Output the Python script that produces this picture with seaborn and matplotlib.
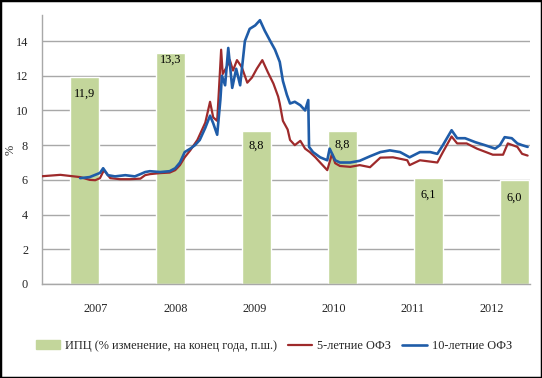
import matplotlib
matplotlib.use("Agg")
import matplotlib.pyplot as plt
import matplotlib.patches as mpatches
from matplotlib.lines import Line2D
import seaborn as sns
import pandas as pd

# ---------------- data ----------------
years = ["2007", "2008", "2009", "2010", "2011", "2012"]
cpi = [11.9, 13.3, 8.8, 8.8, 6.1, 6.0]

ofz5_t = [2006.32, 2006.55, 2006.80, 2006.92, 2006.99, 2007.05, 2007.10, 2007.18, 2007.30,
          2007.43, 2007.56, 2007.62, 2007.68, 2007.81, 2007.93, 2008.00, 2008.06, 2008.12,
          2008.19, 2008.28, 2008.38, 2008.44, 2008.48, 2008.53, 2008.55, 2008.58, 2008.60,
          2008.65, 2008.69, 2008.73, 2008.78, 2008.84, 2008.91, 2008.97, 2009.03, 2009.10,
          2009.13, 2009.17, 2009.24, 2009.30, 2009.32, 2009.36, 2009.42, 2009.45, 2009.51,
          2009.58, 2009.64, 2009.70, 2009.77, 2009.83, 2009.92, 2009.98, 2010.02, 2010.08,
          2010.21, 2010.33, 2010.46, 2010.59, 2010.75, 2010.93, 2010.96, 2011.09, 2011.31,
          2011.38, 2011.49, 2011.56, 2011.68, 2011.81, 2012.01, 2012.14, 2012.20, 2012.32,
          2012.38, 2012.45]
ofz5_v = [6.21, 6.29, 6.16, 6.00, 5.98, 6.10, 6.56, 6.10, 6.04,
          6.04, 6.07, 6.27, 6.33, 6.39, 6.42, 6.56, 6.85, 7.30,
          7.70, 8.30, 9.30, 10.5, 9.6, 9.4, 11.0, 13.5, 12.1,
          12.5, 12.9, 12.3, 12.9, 12.5, 11.6, 11.9, 12.4, 12.9,
          12.6, 12.2, 11.55, 10.8, 10.4, 9.4, 8.9, 8.3, 8.0,
          8.25, 7.8, 7.6, 7.3, 7.0, 6.56, 7.5, 6.96, 6.8,
          6.75, 6.85, 6.73, 7.28, 7.3, 7.13, 6.85, 7.13, 7.0,
          7.6, 8.5, 8.1, 8.1, 7.8, 7.45, 7.45, 8.1, 7.9,
          7.5, 7.4]

ofz10_t = [2006.80, 2006.92, 2007.05, 2007.09, 2007.15, 2007.24, 2007.37, 2007.49, 2007.56,
           2007.62, 2007.68, 2007.81, 2007.93, 2008.00, 2008.06, 2008.12, 2008.19, 2008.25,
           2008.31, 2008.38, 2008.44, 2008.48, 2008.53, 2008.57, 2008.59, 2008.63, 2008.67,
           2008.72, 2008.77, 2008.82, 2008.88, 2008.94, 2009.01, 2009.07, 2009.13, 2009.20,
           2009.26, 2009.32, 2009.36, 2009.41, 2009.45, 2009.51, 2009.58, 2009.64, 2009.68,
           2009.69, 2009.74, 2009.83, 2009.92, 2009.95, 2010.02, 2010.08, 2010.21, 2010.33,
           2010.46, 2010.59, 2010.71, 2010.84, 2010.96, 2011.09, 2011.22, 2011.31, 2011.38,
           2011.49, 2011.56, 2011.66, 2011.79, 2011.91, 2012.04, 2012.10, 2012.16, 2012.25,
           2012.32, 2012.38, 2012.45]
ofz10_v = [6.10, 6.16, 6.40, 6.67, 6.27, 6.20, 6.27, 6.20, 6.33,
           6.45, 6.50, 6.45, 6.50, 6.67, 7.00, 7.60, 7.80, 8.00,
           8.30, 9.00, 9.70, 9.26, 8.60, 10.6, 12.0, 11.45, 13.6,
           11.3, 12.4, 11.45, 14.0, 14.7, 14.9, 15.2, 14.6, 14.0,
           13.5, 12.8, 11.7, 10.9, 10.4, 10.5, 10.3, 10.0, 10.6,
           7.9, 7.6, 7.3, 7.13, 7.8, 7.13, 7.0, 7.0, 7.1,
           7.36, 7.6, 7.7, 7.6, 7.3, 7.6, 7.6, 7.5, 8.0,
           8.86, 8.4, 8.4, 8.17, 8.0, 7.8, 8.0, 8.46, 8.4,
           8.1, 8.0, 7.9]

label_cpi = "ИПЦ (% изменение, на конец года, п.ш.)"
label_5 = "5-летние ОФЗ"
label_10 = "10-летние ОФЗ"
year_ticks = [2007, 2008, 2009, 2010, 2011, 2012]
y_ticks = [0, 2, 4, 6, 8, 10, 12, 14]

# ---------------- style ----------------
sns.set_theme(style="white")
plt.rcParams["font.family"] = ["Liberation Serif", "DejaVu Serif"]

BAR_C = "#c3d69b"
RED = "#9e2a2b"
BLUE = "#1f5ca8"
GRID = "#a8a8a8"
FS = 8.8

fig = plt.figure(figsize=(5.42, 3.78), dpi=100)
ax = fig.add_axes([42 / 542, 1 - 284 / 378, (530 - 42) / 542, (284 - 15) / 378])

bars_df = pd.DataFrame({"year": years, "cpi": cpi})
sns.barplot(data=bars_df, x="year", y="cpi", color=BAR_C, width=0.34,
            saturation=1, ax=ax, zorder=2)
ax.set_xlim(-0.494, 5.18)
ax.set_ylim(0, 15.5)
ax.set_yticks(y_ticks)
ax.yaxis.grid(True, color=GRID, lw=1)
ax.set_axisbelow(True)
ax.set_xticks([])
ax.set_xlabel("")
ax.set_ylabel("%", fontsize=FS)
ax.yaxis.set_label_coords(-0.052, 0.5)
ax.tick_params(axis="y", length=0, labelsize=FS, pad=10)
for s in ["top", "right"]:
    ax.spines[s].set_visible(False)
for s in ["left", "bottom"]:
    ax.spines[s].set_color(GRID)
    ax.spines[s].set_linewidth(1)

# value labels inside bars
offsets_px = [16, 7, 14, 13, 17, 17.5]
for i, (v, off) in enumerate(zip(cpi, offsets_px)):
    ax.annotate(f"{v:.1f}".replace(".", ","), xy=(i, v), xytext=(0, -off * 0.72),
                textcoords="offset points", ha="center", va="center",
                fontsize=FS, color="black", zorder=5)

# lines on twin x axis (time)
ax2 = ax.twiny()
d5 = pd.DataFrame({"t": ofz5_t, "v": ofz5_v})
d10 = pd.DataFrame({"t": ofz10_t, "v": ofz10_v})
sns.lineplot(data=d5, x="t", y="v", color=RED, lw=1.6, ax=ax2, zorder=3)
sns.lineplot(data=d10, x="t", y="v", color=BLUE, lw=1.9, ax=ax2, zorder=4)
ax2.set_xlim(2006.318, 2012.48)
ax2.set_xticks(year_ticks)
ax2.set_xticklabels([str(y) for y in year_ticks])
ax2.xaxis.set_ticks_position("bottom")
ax2.xaxis.set_label_position("bottom")
ax2.tick_params(axis="x", length=0, labelsize=FS, pad=14)
ax2.set_xlabel("")
ax2.set_ylabel("")
for s in ax2.spines.values():
    s.set_visible(False)

handles = [mpatches.Patch(color=BAR_C, label=label_cpi),
           Line2D([0], [0], color=RED, lw=1.6, label=label_5),
           Line2D([0], [0], color=BLUE, lw=1.9, label=label_10)]
fig.legend(handles=handles, loc="center", bbox_to_anchor=(0.505, 1 - 346 / 378),
           ncol=3, frameon=False, fontsize=FS, handlelength=2.0,
           handletextpad=0.4, columnspacing=0.9, borderaxespad=0)

fig.patches.append(mpatches.Rectangle((0, 0), 1, 1, transform=fig.transFigure,
                                      fill=False, edgecolor="black", lw=2.5))

fig.savefig("out.png", dpi=100)
